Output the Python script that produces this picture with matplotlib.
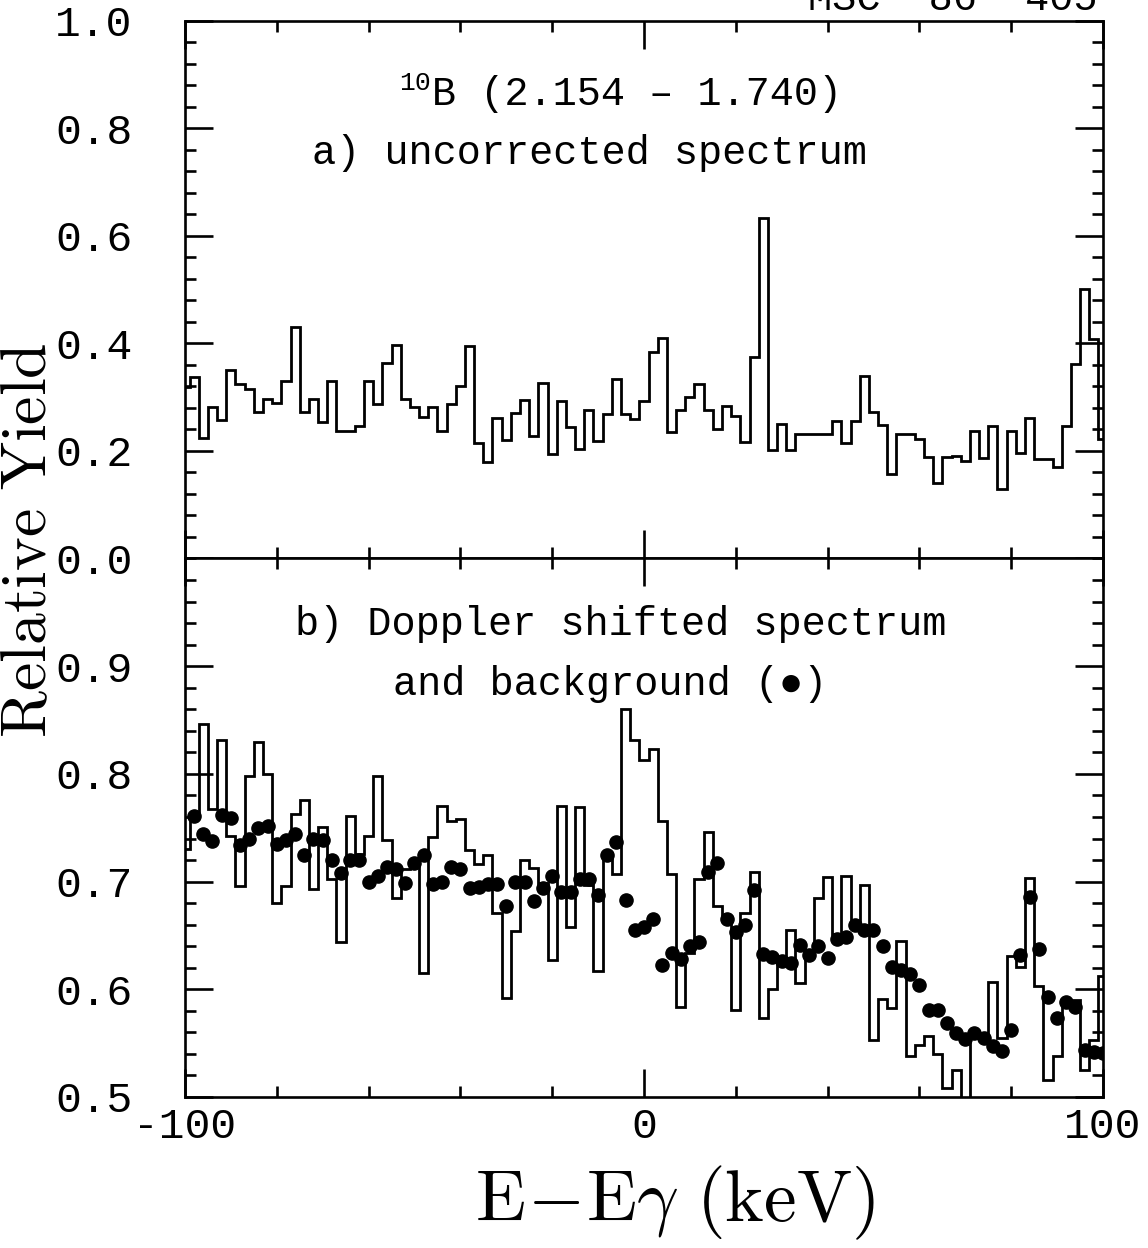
import numpy as np
import matplotlib
matplotlib.use('Agg')
import matplotlib.pyplot as plt
from matplotlib.ticker import MultipleLocator, FixedLocator, FormatStrFormatter

# Energy binning: 2 keV channels centred on even values of E - E_gamma
energy = np.arange(-100, 101, 2)
edges = np.arange(-101, 102, 2)

# a) uncorrected spectrum, one value per channel
raw_yield = [
    0.319, 0.338, 0.225, 0.282, 0.257, 0.350, 0.324, 0.316, 0.272, 0.297,
    0.289, 0.331, 0.431, 0.272, 0.297, 0.254, 0.330, 0.238, 0.238, 0.246,
    0.331, 0.287, 0.364, 0.397, 0.297, 0.281, 0.263, 0.281, 0.237, 0.287,
    0.320, 0.395, 0.214, 0.179, 0.262, 0.221, 0.271, 0.294, 0.227, 0.327,
    0.194, 0.293, 0.245, 0.204, 0.277, 0.218, 0.269, 0.333, 0.269, 0.260,
    0.293, 0.384, 0.410, 0.235, 0.276, 0.300, 0.325, 0.276, 0.241, 0.284,
    0.266, 0.217, 0.375, 0.634, 0.201, 0.250, 0.201, 0.232, 0.232, 0.232,
    0.232, 0.256, 0.215, 0.256, 0.339, 0.272, 0.248, 0.158, 0.231, 0.231,
    0.223, 0.189, 0.141, 0.189, 0.190, 0.181, 0.237, 0.187, 0.246, 0.130,
    0.237, 0.196, 0.262, 0.186, 0.186, 0.170, 0.246, 0.361, 0.502, 0.409,
    0.223,
]

# b) Doppler shifted spectrum
doppler_yield = [
    0.730, 0.760, 0.846, 0.767, 0.831, 0.742, 0.696, 0.798, 0.830, 0.800,
    0.680, 0.696, 0.763, 0.776, 0.693, 0.751, 0.702, 0.644, 0.761, 0.726,
    0.742, 0.798, 0.739, 0.685, 0.712, 0.716, 0.615, 0.741, 0.770, 0.756,
    0.758, 0.729, 0.716, 0.725, 0.671, 0.592, 0.654, 0.720, 0.713, 0.699,
    0.627, 0.770, 0.658, 0.769, 0.697, 0.617, 0.727, 0.707, 0.860, 0.831,
    0.813, 0.823, 0.756, 0.707, 0.584, 0.634, 0.702, 0.746, 0.677, 0.668,
    0.581, 0.671, 0.709, 0.573, 0.600, 0.627, 0.655, 0.606, 0.635, 0.685,
    0.704, 0.651, 0.705, 0.660, 0.697, 0.553, 0.591, 0.583, 0.645, 0.538,
    0.548, 0.557, 0.540, 0.508, 0.525, 0.480, 0.561, 0.555, 0.607, 0.555,
    0.631, 0.621, 0.703, 0.603, 0.516, 0.538, 0.590, 0.590, 0.525, 0.553,
    0.612,
]

# background points, channels from -98 keV upwards
background = [
    0.761, 0.744, 0.738, 0.762, 0.759, 0.734, 0.740, 0.750, 0.752, 0.735,
    0.739, 0.744, 0.725, 0.740, 0.739, 0.720, 0.708, 0.720, 0.720, 0.700,
    0.705, 0.714, 0.712, 0.699, 0.717, 0.725, 0.698, 0.700, 0.714, 0.712,
    0.694, 0.695, 0.698, 0.698, 0.677, 0.700, 0.700, 0.682, 0.694, 0.705,
    0.690, 0.690, 0.702, 0.702, 0.688, 0.725, 0.737, 0.683, 0.655, 0.658,
    0.665, 0.623, 0.634, 0.628, 0.640, 0.644, 0.709, 0.717, 0.665, 0.653,
    0.660, 0.692, 0.633, 0.630, 0.626, 0.624, 0.641, 0.632, 0.640, 0.629,
    0.647, 0.649, 0.660, 0.655, 0.655, 0.640, 0.621, 0.618, 0.614, 0.604,
    0.581, 0.581, 0.569, 0.559, 0.554, 0.559, 0.555, 0.547, 0.543, 0.562,
    0.632, 0.686, 0.637, 0.593, 0.573, 0.588, 0.584, 0.544, 0.542, 0.541,
]
bg_energy = energy[1:]

mono = ['Liberation Mono', 'DejaVu Sans Mono']
plt.rcParams['font.family'] = mono

fig = plt.figure(figsize=(11.48, 12.48), dpi=100)
ax_top = fig.add_axes([0.1611, 0.5525, 0.7997, 0.4307])
ax_bot = fig.add_axes([0.1611, 0.1210, 0.7997, 0.4315], sharex=ax_top)

lw = 1.9
for ax in (ax_top, ax_bot):
    for s in ax.spines.values():
        s.set_linewidth(lw)
    ax.tick_params(which='both', direction='in', top=True, right=True,
                   width=lw, labelsize=31)
    ax.tick_params(which='major', length=20)
    ax.tick_params(which='minor', length=8)
    ax.tick_params(axis='y', pad=38)
    ax.tick_params(axis='x', pad=7)
    ax.xaxis.set_major_locator(FixedLocator([-100, 0, 100]))
    ax.xaxis.set_minor_locator(MultipleLocator(20))

ax_top.set_xlim(-100, 100)

# top panel
ax_top.stairs(raw_yield, edges, baseline=None, color='black', lw=2.0)
ax_top.set_ylim(0.0, 1.0)
ax_top.yaxis.set_major_locator(MultipleLocator(0.2))
ax_top.yaxis.set_minor_locator(MultipleLocator(0.04))
ax_top.yaxis.set_major_formatter(FormatStrFormatter('%.1f'))
ax_top.tick_params(axis='x', labelbottom=False)

ax_top.text(0.268, 0.872, '10', transform=ax_top.transAxes,
            fontsize=19, ha='right', va='baseline')
ax_top.text(0.269, 0.844, 'B (2.154 \u2013 1.740)', transform=ax_top.transAxes,
            fontsize=29, ha='left', va='baseline')
ax_top.text(0.441, 0.733, 'a) uncorrected spectrum', transform=ax_top.transAxes,
            fontsize=29, ha='center', va='baseline')

# bottom panel
ax_bot.stairs(doppler_yield, edges, baseline=None, color='black', lw=2.0)
ax_bot.plot(bg_energy, background, 'o', color='black', ms=9.5, zorder=3)
ax_bot.set_ylim(0.5, 1.0)
ax_bot.yaxis.set_major_locator(FixedLocator([0.5, 0.6, 0.7, 0.8, 0.9]))
ax_bot.yaxis.set_minor_locator(MultipleLocator(0.02))
ax_bot.yaxis.set_major_formatter(FormatStrFormatter('%.1f'))
ax_bot.xaxis.set_major_formatter(FormatStrFormatter('%d'))

ax_bot.text(0.475, 0.858, 'b) Doppler shifted spectrum', transform=ax_bot.transAxes,
            fontsize=29, ha='center', va='baseline')
ax_bot.text(0.463, 0.746, 'and background (\u25cf)', transform=ax_bot.transAxes,
            fontsize=29, ha='center', va='baseline')

# axis titles
fig.text(0.0255, 0.567, r'$\mathrm{Relative\ Yield}$', rotation=90,
         ha='center', va='center', fontsize=46, math_fontfamily='cm')
fig.text(0.588, 0.036, r'$\mathrm{E\!-\!E}\gamma\ \mathrm{(keV)}$',
         ha='center', va='center', fontsize=53, math_fontfamily='cm')

fig.text(0.9556, 0.992, 'MSC  86  405', ha='right', va='baseline', fontsize=29)

fig.savefig('out.png', dpi=100)
